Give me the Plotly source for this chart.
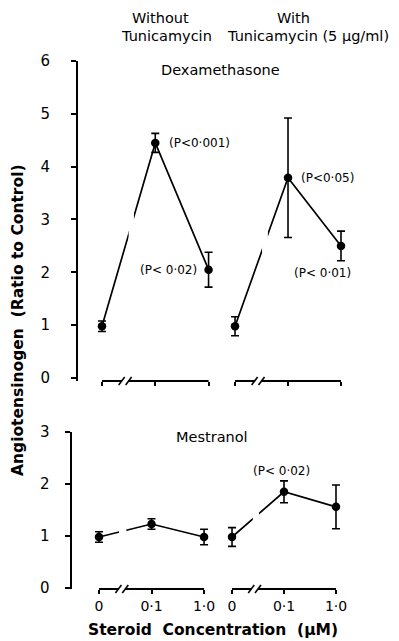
import plotly.graph_objects as go

# Concentration steps on each panel (plotted at evenly spaced positions)
conc_pos = [0, 1, 2]
conc_labels = ["0", "0·1", "1·0"]

# Dexamethasone: angiotensinogen (ratio to control), mean and error
dex_without = [0.98, 4.45, 2.05]
dex_without_err = [0.10, 0.18, 0.33]
dex_with = [0.98, 3.79, 2.50]
dex_with_err = [0.18, 1.13, 0.28]

# Mestranol
mes_without = [0.98, 1.23, 0.98]
mes_without_err = [0.10, 0.10, 0.15]
mes_with = [0.98, 1.85, 1.56]
mes_with_err = [0.18, 0.21, 0.42]

W, H = 399, 641
FONT = "DejaVu Sans"
INK = "black"

fig = go.Figure()

panels = [
    # axis suffix, y values, errors, x range, x px span, y px span, y range, line gap
    ("", dex_without, dex_without_err, [-0.45, 2.10], (78.0, 213.9), (381, 61), [-0.057, 6.0], (0.50, 0.60)),
    ("2", dex_with, dex_with_err, [-0.41, 2.20], (213.3, 351.6), (381, 61), [-0.057, 6.0], (0.51, 0.62)),
    ("3", mes_without, mes_without_err, [-0.524, 2.10], (71.5, 209.3), (589, 432), [-0.02, 3.0], (0.38, 0.52)),
    ("4", mes_with, mes_with_err, [-0.41, 2.20], (210.7, 346.4), (589, 432), [-0.02, 3.0], (0.40, 0.52)),
]

shapes = []
for i, (s, yv, ye, xr, xpx, ypx, yr, gap) in enumerate(panels):
    xa, ya = "x" + s, "y" + s
    fig.add_trace(go.Scatter(
        x=conc_pos, y=yv, xaxis=xa, yaxis=ya, mode="lines+markers",
        line=dict(color=INK, width=1.7),
        marker=dict(color=INK, size=8.5),
        error_y=dict(type="data", array=ye, color=INK, thickness=1.6, width=4),
        showlegend=False, cliponaxis=False,
    ))
    left = i in (0, 2)
    bottom = i in (2, 3)
    fig.layout["xaxis" + s] = dict(
        domain=[xpx[0] / W, xpx[1] / W], range=xr, anchor=ya,
        showline=False, showgrid=False, zeroline=False, automargin=False,
        tickmode="array", tickvals=conc_pos,
        ticktext=conc_labels if bottom else ["", "", ""],
        ticks="outside", ticklen=4, tickwidth=1.6, tickcolor=INK,
        tickfont=dict(family=FONT, size=14, color=INK),
        fixedrange=True,
    )
    ydict = dict(
        domain=[1 - ypx[0] / H, 1 - ypx[1] / H], range=yr, anchor=xa,
        showgrid=False, zeroline=False, fixedrange=True, automargin=False,
    )
    if left:
        top_max = int(round(yr[1]))
        ydict.update(
            showline=True, linecolor=INK, linewidth=2,
            tickmode="array", tickvals=list(range(0, top_max + 1)),
            ticktext=[str(v) for v in range(0, top_max + 1)],
            ticks="outside", ticklen=5, tickwidth=1.6, tickcolor=INK,
            tickfont=dict(family=FONT, size=15, color=INK),
            ticklabelstandoff=18 if i == 0 else 12,
        )
    else:
        ydict.update(visible=False)
    fig.layout["yaxis" + s] = ydict

    # gap in the connecting line between 0 and 0·1 (broken scale)
    shapes.append(dict(type="rect", xref=xa, yref=ya + " domain",
                       x0=gap[0], x1=gap[1], y0=0.05, y1=1.0,
                       fillcolor="white", line=dict(width=0), layer="above"))
    # x axis drawn as a broken segment from 0 to 1·0
    ag = (0.37, 0.50)
    for x0, x1 in ((0, ag[0]), (ag[1], 2)):
        shapes.append(dict(type="line", xref=xa, yref=ya + " domain",
                           x0=x0, x1=x1, y0=0, y1=0,
                           line=dict(color=INK, width=2), layer="above"))
    for xb in ag:
        shapes.append(dict(type="line", xref=xa, yref=ya + " domain",
                           xsizemode="pixel", xanchor=xb, x0=-3, x1=3,
                           ysizemode="pixel", yanchor=0, y0=-4, y1=4,
                           line=dict(color=INK, width=1.6), layer="above"))

fig.update_layout(shapes=shapes)

ann = []
pfont = dict(family=FONT, size=12, color=INK)
# significance labels tied to their points
ann.append(dict(x=conc_pos[1], y=dex_without[1], xref="x", yref="y", text="(P&lt;0·001)",
                showarrow=False, xanchor="left", yanchor="middle", xshift=12, font=pfont))
ann.append(dict(x=conc_pos[2], y=dex_without[2], xref="x", yref="y", text="(P&lt; 0·02)",
                showarrow=False, xanchor="right", yanchor="middle", xshift=-10, font=pfont))
ann.append(dict(x=conc_pos[1], y=dex_with[1], xref="x2", yref="y2", text="(P&lt;0·05)",
                showarrow=False, xanchor="left", yanchor="middle", xshift=11, font=pfont))
ann.append(dict(x=conc_pos[2], y=dex_with[2] - dex_with_err[2], xref="x2", yref="y2", text="(P&lt; 0·01)",
                showarrow=False, xanchor="center", yanchor="middle", xshift=-19, yshift=-12, font=pfont))
ann.append(dict(x=conc_pos[1], y=mes_with[1] + mes_with_err[1], xref="x4", yref="y4", text="(P&lt; 0·02)",
                showarrow=False, xanchor="center", yanchor="middle", xshift=-3, yshift=10, font=pfont))

hfont = dict(family=FONT, size=14.5, color=INK)


def paper_text(text, px, py, font, **kw):
    ann.append(dict(x=px / W, y=1 - py / H, xref="paper", yref="paper", text=text,
                    showarrow=False, xanchor="center", yanchor="middle", font=font, **kw))


paper_text("Without", 160, 18, hfont)
paper_text("Tunicamycin", 166, 36, hfont)
paper_text("With", 293, 18, hfont)
paper_text("Tunicamycin (5 µg/ml)", 308, 36, hfont)
paper_text("Dexamethasone", 220, 70, hfont)
paper_text("Mestranol", 212, 437, hfont)
paper_text("<b>Steroid  Concentration  (µM)</b>", 213, 630,
           dict(family=FONT, size=15.5, color=INK))
paper_text("<b>Angiotensinogen  (Ratio to Control)</b>", 18, 320,
           dict(family=FONT, size=15.5, color=INK), textangle=-90)

fig.update_layout(
    annotations=ann,
    width=W, height=H,
    margin=dict(l=0, r=0, t=0, b=0, autoexpand=False),
    paper_bgcolor="white", plot_bgcolor="white",
    font=dict(family=FONT, color=INK),
)

fig.write_html("out.html")
